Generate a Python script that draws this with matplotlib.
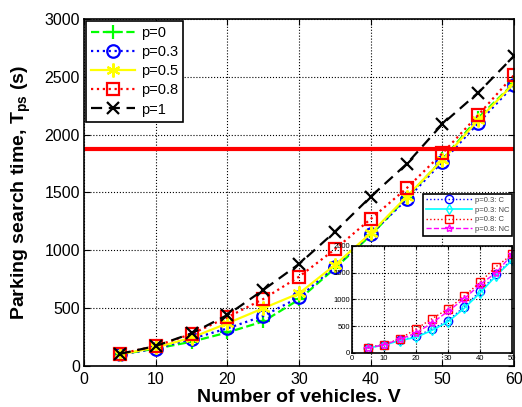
import matplotlib
matplotlib.use('Agg')
import matplotlib.pyplot as plt
from matplotlib import rcParams

rcParams['font.family'] = ['Liberation Sans', 'DejaVu Sans']
rcParams['mathtext.fontset'] = 'custom'
rcParams['mathtext.rm'] = 'Liberation Sans'
rcParams['mathtext.bf'] = 'Liberation Sans:bold'
rcParams['xtick.direction'] = 'in'
rcParams['ytick.direction'] = 'in'

# ========== data ==========
vehicles = [5, 10, 15, 20, 25, 30, 35, 40, 45, 50, 55, 60]
tps_p0 = [100, 150, 210, 290, 385, 575, 845, 1130, 1455, 1785, 2145, 2445]
tps_p03 = [100, 150, 235, 325, 432, 594, 858, 1140, 1440, 1765, 2100, 2430]
tps_p05 = [100, 160, 245, 369, 499, 628, 873, 1147, 1464, 1781, 2127, 2444]
tps_p08 = [105, 173, 277, 421, 579, 772, 1009, 1271, 1536, 1839, 2170, 2516]
tps_p1 = [105, 173, 282, 441, 657, 882, 1161, 1464, 1746, 2092, 2363, 2680]
threshold = 1875

inset_x = [5, 10, 15, 20, 25, 30, 35, 40, 45, 50]
in_p03_c = [95, 150, 240, 306, 445, 601, 858, 1151, 1465, 1746]
in_p03_nc = [90, 145, 230, 290, 420, 580, 830, 1120, 1440, 1730]
in_p08_c = [95, 155, 263, 445, 638, 820, 1057, 1320, 1610, 1840]
in_p08_nc = [92, 150, 255, 370, 557, 776, 1008, 1277, 1496, 1840]

asterisk = (6, 2, 0)

fig = plt.figure(figsize=(5.22, 4.07), dpi=100)
ax = fig.add_axes([0.161, 0.1007, 0.824, 0.853])

ax.plot(vehicles, tps_p0, color='#00ff00', ls='--', lw=1.6, marker='+', ms=10, mew=1.6, label='p=0')
ax.plot(vehicles, tps_p03, color='blue', ls=':', lw=1.6, marker='o', ms=9, mfc='none', mew=1.6, label='p=0.3')
ax.plot(vehicles, tps_p05, color='yellow', ls='-', lw=1.6, marker=asterisk, ms=10, mew=1.6, label='p=0.5')
ax.plot(vehicles, tps_p08, color='red', ls=':', lw=1.6, marker='s', ms=9, mfc='none', mew=1.6, label='p=0.8')
ax.plot(vehicles, tps_p1, color='black', ls='--', lw=1.6, marker='x', ms=9, mew=1.6, dashes=(5, 3), label='p=1')
ax.axhline(threshold, color='red', lw=3, xmin=0.003, xmax=1)

ax.set_xlim(0, 60)
ax.set_ylim(0, 3000)
ax.set_xticks(range(0, 61, 10))
ax.set_yticks(range(0, 3001, 500))
ax.tick_params(labelsize=11.5, top=True, right=True, length=4)
ax.tick_params(axis='x', pad=4)
ax.tick_params(axis='y', pad=3)
ax.grid(True, color='black', ls=':', lw=0.8)
ax.set_xlabel('Number of vehicles. V', fontsize=14, fontweight='bold', labelpad=1.5)
ax.set_ylabel(r'Parking search time, T$_\mathbf{ps}$ (s)', fontsize=14, fontweight='bold', labelpad=8)
for s in ax.spines.values():
    s.set_linewidth(1.2)

leg = ax.legend(loc='upper left', fontsize=10.5, borderaxespad=0.15, handlelength=3,
                labelspacing=0.35, fancybox=False, framealpha=1, edgecolor='black',
                handletextpad=0.4, borderpad=0.35)
leg.get_frame().set_linewidth(1.2)

# ========== inset ==========
ins = fig.add_axes([0.674, 0.133, 0.307, 0.263])
ins.plot(inset_x, in_p03_c, color='blue', ls=':', lw=1, marker='o', ms=6, mfc='none', mew=1, label='p=0.3: C')
ins.plot(inset_x, in_p03_nc, color='cyan', ls='-', lw=1.2, marker='d', ms=5, mfc='none', mew=1, label='p=0.3: NC')
ins.plot(inset_x, in_p08_c, color='red', ls=':', lw=1, marker='s', ms=6, mfc='none', mew=1, label='p=0.8: C')
ins.plot(inset_x, in_p08_nc, color='magenta', ls='--', lw=1, marker='*', ms=6, mfc='none', mew=1, label='p=0.8: NC')
ins.set_xlim(0, 50)
ins.set_ylim(0, 2000)
ins.set_xticks(range(0, 51, 10))
ins.set_yticks(range(0, 2001, 500))
ins.tick_params(labelsize=5.5, top=True, right=True, length=2, pad=1.5)
ins.grid(True, color='black', ls=':', lw=0.8)
for s in ins.spines.values():
    s.set_linewidth(1.2)

ileg = ins.legend(loc='lower right', bbox_to_anchor=(0.981, 0.420), bbox_transform=fig.transFigure,
                  fontsize=5.5, handlelength=6, labelspacing=0.3, fancybox=False, framealpha=1,
                  edgecolor='black', borderaxespad=0, handletextpad=0.3, borderpad=0.4)
ileg.get_frame().set_linewidth(1.2)
for t in ileg.get_texts():
    t.set_color('#444444')

fig.savefig('out.png', dpi=100)
